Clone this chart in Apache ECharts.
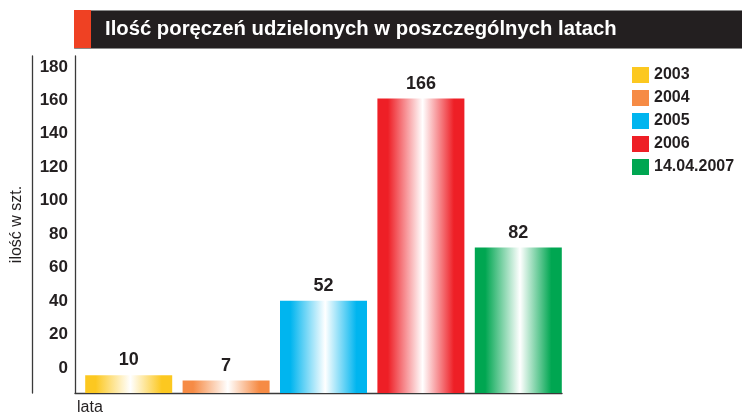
<!DOCTYPE html>
<html>
<head>
<meta charset="utf-8">
<script src="https://cdn.jsdelivr.net/npm/echarts@6/dist/echarts.min.js"></script>
<style>
html,body{margin:0;padding:0;background:#fff;}
#chart{width:742px;height:419px;}
</style>
</head>
<body>
<div id="chart"></div>
<script>
// ---- data ----
var categories = ['2003', '2004', '2005', '2006', '14.04.2007'];
var values = [10, 7, 52, 166, 82];
var colors = ['#fcc820', '#f68b45', '#00b5ef', '#ee1f26', '#00a651'];
var yTicks = [0, 20, 40, 60, 80, 100, 120, 140, 160, 180];
var titleText = 'Ilość poręczeń udzielonych w poszczególnych latach';
var yName = 'ilość w szt.';
var xName = 'lata';

var FONT = '"Liberation Sans", Arial, sans-serif';
var TXT = '#231f20';

function grad(c) {
  return {
    type: 'linear', x: 0, y: 0, x2: 1, y2: 0,
    colorStops: [
      {offset: 0, color: c},
      {offset: 0.12, color: c},
      {offset: 0.52, color: '#ffffff'},
      {offset: 0.88, color: c},
      {offset: 1, color: c}
    ]
  };
}

var series = categories.map(function (name, i) {
  var d = categories.map(function (_, j) { return j === i ? values[i] : '-'; });
  return {
    name: name,
    type: 'bar',
    xAxisIndex: 1,
    yAxisIndex: 2,
    barWidth: 87,
    barGap: '-100%',
    data: d,
    itemStyle: {color: grad(colors[i])},
    label: {
      show: true, position: 'top', distance: 6,
      color: TXT, fontFamily: FONT, fontWeight: 'bold', fontSize: 18
    },
    emphasis: {disabled: true}
  };
});

var chart = echarts.init(document.getElementById('chart'), null, {renderer: 'canvas'});
chart.setOption({
  animation: false,
  backgroundColor: '#ffffff',
  grid: [
    {left: 75, right: 180, top: 56, bottom: 26},
    {left: 80, right: 175, top: 56, bottom: 26}
  ],
  xAxis: [
    {
      type: 'category', gridIndex: 0, data: categories,
      axisLine: {show: true, onZero: false, lineStyle: {color: '#3a3a3a', width: 1.3}},
      axisTick: {show: false}, axisLabel: {show: false}, splitLine: {show: false}
    },
    {type: 'category', gridIndex: 1, data: categories, show: false}
  ],
  yAxis: [
    {
      type: 'value', gridIndex: 0, min: -15, max: 186.5,
      axisLine: {show: true, lineStyle: {color: '#3a3a3a', width: 1.3}},
      axisTick: {show: false},
      splitLine: {show: false},
      axisLabel: {
        customValues: yTicks, margin: 7,
        color: TXT, fontFamily: FONT, fontWeight: 'bold', fontSize: 17
      },
      name: yName, nameLocation: 'middle', nameRotate: 90, nameGap: 50,
      nameTextStyle: {color: TXT, fontFamily: FONT, fontSize: 16}
    },
    {
      type: 'value', gridIndex: 0, min: -15, max: 186.5, position: 'left', offset: 43,
      axisLine: {show: true, lineStyle: {color: '#3a3a3a', width: 1.3}},
      axisTick: {show: false}, axisLabel: {show: false}, splitLine: {show: false}
    },
    {type: 'value', gridIndex: 1, min: 0, max: 190, show: false}
  ],
  legend: {
    orient: 'vertical', left: 627, top: 62,
    itemWidth: 17, itemHeight: 16, itemGap: 7,
    icon: 'rect',
    textStyle: {color: TXT, fontFamily: FONT, fontWeight: 'bold', fontSize: 16},
    data: categories.map(function (n, i) { return {name: n, itemStyle: {color: colors[i]}}; }),
    selectedMode: false
  },
  graphic: [
    {type: 'rect', left: 74, top: 10, shape: {width: 668, height: 38}, style: {fill: '#231f20', stroke: '#8a8a8a', lineWidth: 1}},
    {type: 'rect', left: 74, top: 10, shape: {width: 17, height: 38}, style: {fill: '#ef4123'}},
    {type: 'text', left: 105, top: 19, style: {text: titleText, fill: '#ffffff', font: 'bold 20.3px ' + FONT}},
    {type: 'text', left: 77, top: 400, style: {text: xName, fill: TXT, font: '16px ' + FONT}}
  ],
  series: series
});
</script>
</body>
</html>
